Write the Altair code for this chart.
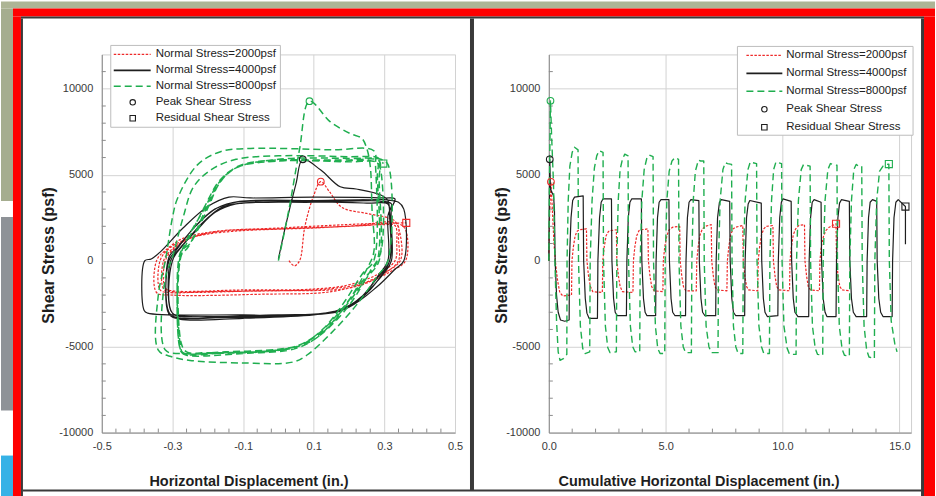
import altair as alt
import pandas as pd

# ---------------- data ----------------
# Left panel: shear stress vs horizontal displacement (hysteresis loops)
L_RED_X = [0.03, 0.045, 0.06, 0.075, 0.10, 0.12, 0.145, 0.18, 0.25, 0.31, 0.33,
           0.345, 0.345, 0.30, 0.25, 0.18, 0.0, -0.2, -0.31, -0.335, -0.335, -0.31, -0.26, -0.2, -0.1, 0.1, 0.3, 0.33,
           0.335, 0.33, 0.28, 0.2, 0.1, -0.1, -0.3, -0.32, -0.32, -0.29, -0.24, -0.15, 0.0, 0.2, 0.335,
           0.34, 0.34, 0.31, 0.24, 0.14, -0.05, -0.3, -0.325, -0.325, -0.3, -0.25, -0.17, 0.0, 0.25, 0.34,
           0.36, 0.36, 0.32, 0.26, 0.15, -0.05, -0.3, -0.345, -0.345, -0.32, -0.27, -0.18, 0.0, 0.25, 0.362]
L_RED_Y = [0, -300, 0, 2000, 3800, 4600, 4000, 3100, 2750, 2500, 2300,
           1500, 0, -700, -1300, -1650, -1750, -1800, -1850, -1700, 0, 700, 1250, 1550, 1750, 1900, 2100, 2050,
           1000, 0, -800, -1400, -1650, -1700, -1750, -1600, 0, 800, 1400, 1750, 1850, 2000, 2150,
           1200, 0, -600, -1300, -1650, -1750, -1800, -1650, 0, 700, 1300, 1700, 1850, 2050, 2150,
           1800, 0, -600, -1200, -1800, -1950, -2000, -1850, 0, 600, 1300, 1700, 1900, 2150, 2200]

L_BLACK_X = [0.0, 0.02, 0.05, 0.069, 0.12, 0.175, 0.22, 0.29, 0.31,
             0.315, 0.315, 0.29, 0.25, 0.2, 0.13, 0.0, -0.2, -0.29, -0.305, -0.305, -0.28, -0.23, -0.18, -0.12, 0.0, 0.2, 0.3,
             0.34, 0.355, 0.355, 0.33, 0.28, 0.2, 0.1, -0.1, -0.37, -0.38, -0.378, -0.36, -0.335, -0.27, -0.2, -0.14, -0.08, 0.1, 0.3, 0.33,
             0.32, 0.32, 0.3, 0.24, 0.18, 0.1, -0.1, -0.28, -0.31, -0.31, -0.29, -0.24, -0.18, -0.12, 0.05, 0.25, 0.31,
             0.315, 0.315, 0.28, 0.22, 0.15, 0.0, -0.25, -0.3, -0.3, -0.27, -0.22, -0.16, -0.1, 0.1, 0.3, 0.32,
             0.31, 0.31, 0.285, 0.23, 0.16, 0.05, -0.15, -0.29, -0.31, -0.31, -0.285, -0.235, -0.175, -0.11, 0.1, 0.28, 0.31]
L_BLACK_Y = [100, 2000, 4500, 5900, 5270, 4300, 4170, 3820, 3500,
             2500, 0, -900, -1900, -2700, -3050, -3200, -3250, -3200, -2900, 0, 700, 1800, 2800, 3300, 3400, 3500, 3550,
             3400, 3000, 0, -500, -1500, -2700, -3150, -3150, -3050, -2900, 0, 100, 500, 1900, 3150, 3700, 3650, 3700, 3650, 3600,
             3000, 0, -700, -2000, -2900, -3150, -3350, -3400, -3100, 0, 600, 1900, 3000, 3400, 3450, 3350, 3300,
             2800, 0, -1000, -2400, -3000, -3150, -3250, -3050, 0, 900, 2100, 3100, 3350, 3400, 3450, 3300,
             2600, 0, -800, -2200, -2950, -3200, -3300, -3300, -3000, 200, 800, 2000, 3050, 3450, 3500, 3500, 3350]

L_GREEN_X = [0.0, 0.03, 0.06, 0.088, 0.147, 0.203, 0.236, 0.25, 0.26,
             0.265, 0.27, 0.25, 0.2, 0.14, 0.06, 0.0, -0.15, -0.27, -0.277, -0.277, -0.25, -0.2, -0.164, -0.117, -0.013, 0.15, 0.28,
             0.29, 0.29, 0.26, 0.2, 0.12, 0.05, -0.1, -0.26, -0.275, -0.28, -0.26, -0.21, -0.17, -0.12, 0.0, 0.2, 0.29,
             0.31, 0.31, 0.28, 0.22, 0.15, 0.08, 0.04, -0.1, -0.25, -0.3, -0.34, -0.34, -0.32, -0.3, -0.286, -0.23, -0.164, -0.079, 0.15, 0.27,
             0.275, 0.27, 0.24, 0.19, 0.13, 0.06, 0.0, -0.2, -0.26, -0.275, -0.275, -0.255, -0.205, -0.16, -0.11, 0.0, 0.2, 0.28,
             0.28, 0.28, 0.245, 0.18, 0.11, 0.03, -0.15, -0.27, -0.28, -0.28, -0.26, -0.21, -0.165, -0.115, 0.0, 0.2, 0.285,
             0.285, 0.285, 0.25, 0.18, 0.1, 0.0, -0.2, -0.27, -0.32, -0.32, -0.3, -0.27, -0.24, -0.19, -0.12, 0.0, 0.2, 0.28, 0.297]
L_GREEN_Y = [0, 3000, 6500, 9280, 8080, 7400, 7120, 6540, 5500,
             3000, 500, -500, -2300, -3900, -4900, -5150, -5300, -5350, -5000, 500, 1000, 3050, 4600, 5470, 5850, 5800, 5700,
             5200, 500, -600, -2600, -4300, -5100, -5400, -5500, -5300, 0, 1200, 3000, 4500, 5400, 5900, 5950, 5900,
             5600, 0, -900, -2600, -4200, -5500, -5900, -5950, -5800, -5600, -5200, -2000, 0, 2500, 3600, 5560, 6340, 6530, 6450, 6400,
             5500, 0, -700, -2300, -3900, -4950, -5200, -5350, -5300, -4800, 300, 800, 3000, 4700, 5500, 5800, 5750, 5700,
             5000, 0, -1000, -2800, -4300, -5100, -5350, -5400, -5000, 0, 1000, 3100, 4700, 5450, 5800, 5850, 5800,
             4800, 0, -1000, -2900, -4600, -5200, -5400, -5400, -5200, -1000, 200, 2500, 4300, 5300, 5900, 6100, 6050, 6000, 5650]

L_PEAK_X = [0.12, 0.069, 0.088]
L_PEAK_Y = [4600, 5900, 9280]
L_RES_X = [0.362, 0.297]
L_RES_Y = [2200, 5650]

# Right panel: shear stress vs cumulative horizontal displacement
R_GREEN_X = [0.0, 0.03, 0.07, 0.12, 0.2, 0.26, 0.33, 0.40, 0.48, 0.62, 0.77,
             0.78, 0.83, 0.9, 1.0, 1.1, 1.25, 1.27, 1.35, 1.45, 1.55, 1.75,
             1.77, 1.85, 1.95, 2.05, 2.15, 2.32, 2.34, 2.42, 2.52, 2.62, 2.89,
             2.91, 2.97, 3.05, 3.15, 3.25, 3.39, 3.41, 3.49, 3.59, 3.69, 3.89,
             3.91, 3.98, 4.08, 4.2, 4.3, 4.46, 4.48, 4.56, 4.66, 4.76, 4.96,
             4.98, 5.05, 5.15, 5.27, 5.4, 5.55, 5.57, 5.65, 5.75, 5.85, 6.1,
             6.12, 6.18, 6.27, 6.4, 6.5, 6.63, 6.65, 6.73, 6.85, 6.95, 7.24,
             7.26, 7.33, 7.45, 7.55, 7.65, 7.82, 7.84, 7.9, 8.0, 8.1, 8.3,
             8.32, 8.4, 8.52, 8.62, 8.72, 8.89, 8.91, 8.99, 9.1, 9.2, 9.44,
             9.46, 9.53, 9.62, 9.72, 9.82, 9.96, 9.98, 10.06, 10.2, 10.3, 10.58,
             10.6, 10.68, 10.8, 10.9, 11.0, 11.18, 11.2, 11.28, 11.4, 11.5, 11.72,
             11.74, 11.82, 11.94, 12.05, 12.15, 12.33, 12.35, 12.43, 12.55, 12.65, 12.86,
             12.88, 12.95, 13.05, 13.15, 13.25, 13.39, 13.41, 13.49, 13.6, 13.7, 13.93,
             13.95, 14.03, 14.15, 14.3, 14.45, 14.55, 14.57, 14.65, 14.8, 14.9]
R_GREEN_Y = [0, 5000, 9300, 7200, 4500, 0, -3500, -5300, -5800, -5700, -5450,
             0, 3500, 5500, 6300, 6600, 6450, 0, -3800, -5100, -5400, -5300,
             0, 3500, 5400, 6100, 6400, 6300, 0, -3800, -5050, -5350, -5300,
             0, 3500, 5300, 5900, 6200, 6100, 0, -3800, -5000, -5300, -5300,
             0, 3500, 5300, 6000, 6150, 6050, 0, -3800, -5100, -5400, -5400,
             0, 3500, 5200, 5800, 6000, 5900, 0, -3800, -5000, -5350, -5350,
             0, 3500, 5200, 5850, 5800, 5800, 0, -3800, -5000, -5350, -5350,
             0, 3500, 5300, 5700, 5650, 5600, 0, -3800, -5000, -5400, -5400,
             0, 3500, 5300, 5750, 5700, 5650, 0, -3800, -5000, -5400, -5400,
             0, 3500, 5300, 5750, 5700, 5650, 0, -3800, -5100, -5450, -5450,
             0, 3500, 5300, 5600, 5550, 5500, 0, -3800, -5100, -5450, -5500,
             0, 3500, 5300, 5650, 5600, 5550, 0, -3800, -5150, -5500, -5550,
             0, 3500, 5300, 5600, 5500, 5500, 0, -3800, -5200, -5600, -5700,
             0, 3500, 5200, 5500, 5600, 5620, 0, -3500, -4800, -5300]

R_BLACK_X = [0.0, 0.02, 0.04, 0.07, 0.12, 0.2, 0.24, 0.27, 0.33, 0.40, 0.5, 0.68, 0.87,
             0.88, 0.95, 1.02, 1.1, 1.47, 1.49, 1.56, 1.63, 1.72, 2.08,
             2.1, 2.17, 2.24, 2.32, 2.68, 2.7, 2.77, 2.84, 2.93, 3.32,
             3.34, 3.4, 3.47, 3.55, 3.96, 3.98, 4.05, 4.12, 4.2, 4.57,
             4.59, 4.65, 4.72, 4.8, 5.14, 5.16, 5.23, 5.3, 5.4, 5.85,
             5.87, 5.93, 6.0, 6.08, 6.42, 6.44, 6.51, 6.58, 6.68, 7.14,
             7.16, 7.22, 7.3, 7.38, 7.74, 7.76, 7.83, 7.9, 8.0, 8.38,
             8.4, 8.46, 8.53, 8.6, 9.09, 9.11, 9.18, 9.25, 9.35, 9.8,
             9.82, 9.88, 9.95, 10.02, 10.37, 10.39, 10.46, 10.53, 10.66, 11.12,
             11.14, 11.2, 11.27, 11.35, 11.65, 11.67, 11.74, 11.82, 11.9, 12.29,
             12.31, 12.37, 12.44, 12.52, 12.86, 12.88, 12.95, 13.03, 13.15, 13.6,
             13.62, 13.68, 13.75, 13.85, 14.03, 14.05, 14.12, 14.2, 14.3, 14.69,
             14.71, 14.77, 14.85, 14.95, 15.26, 15.26]
R_BLACK_Y = [0, 3000, 5900, 4200, 4000, 3800, 3000, 0, -2000, -3000, -3450, -3520, -3450,
             0, 2500, 3500, 3700, 3770, 0, -2200, -3050, -3350, -3350,
             0, 2500, 3400, 3600, 3600, 0, -2200, -3000, -3200, -3200,
             0, 2500, 3400, 3600, 3600, 0, -2200, -3000, -3200, -3200,
             0, 2500, 3400, 3550, 3550, 0, -2200, -3000, -3200, -3200,
             0, 2500, 3400, 3550, 3500, 0, -2200, -3000, -3200, -3200,
             0, 2500, 3400, 3550, 3450, 0, -2200, -3000, -3200, -3200,
             0, 2500, 3300, 3500, 3350, 0, -2200, -3000, -3250, -3200,
             0, 2500, 3400, 3600, 3450, 0, -2200, -3000, -3250, -3250,
             0, 2500, 3400, 3550, 3400, 0, -2200, -3000, -3250, -3250,
             0, 2500, 3350, 3550, 3450, 0, -2200, -3000, -3250, -3250,
             0, 2500, 3400, 3550, 3450, 0, -2200, -3000, -3250, -3250,
             0, 2500, 3400, 3550, 3150, 950]

R_RED_X = [0.0, 0.03, 0.09, 0.15, 0.22, 0.3, 0.38, 0.47, 0.6, 0.97,
           0.99, 1.05, 1.12, 1.2, 1.3, 1.61, 1.63, 1.7, 1.78, 1.88, 2.29,
           2.31, 2.37, 2.45, 2.55, 2.65, 2.89, 2.91, 2.98, 3.05, 3.15, 3.6,
           3.62, 3.68, 3.76, 3.86, 3.96, 4.24, 4.26, 4.33, 4.4, 4.5, 4.88,
           4.9, 4.96, 5.05, 5.15, 5.3, 5.6, 5.62, 5.69, 5.76, 5.86, 6.31,
           6.33, 6.39, 6.47, 6.57, 6.7, 6.95, 6.97, 7.04, 7.11, 7.2, 7.62,
           7.64, 7.7, 7.78, 7.88, 8.0, 8.3, 8.32, 8.39, 8.46, 8.55, 8.94,
           8.96, 9.02, 9.1, 9.2, 9.3, 9.59, 9.61, 9.68, 9.75, 9.85, 10.3,
           10.32, 10.38, 10.46, 10.56, 10.7, 10.94, 10.96, 11.03, 11.1, 11.2, 11.58,
           11.6, 11.66, 11.75, 11.85, 12.0, 12.29, 12.31, 12.38, 12.45, 12.55, 12.86]
R_RED_Y = [0, 2500, 4590, 3000, 1000, -300, -1200, -1850, -2050, -2000,
           0, 800, 1400, 1700, 1800, 1850, 0, -900, -1500, -1800, -1850,
           0, 800, 1450, 1700, 1750, 1800, 0, -900, -1500, -1800, -1850,
           0, 800, 1450, 1750, 1800, 1850, 0, -900, -1500, -1750, -1800,
           0, 800, 1450, 1800, 1950, 2000, 0, -900, -1500, -1750, -1750,
           0, 800, 1500, 1850, 2000, 2100, 0, -900, -1500, -1700, -1750,
           0, 800, 1500, 1850, 1950, 2050, 0, -900, -1500, -1700, -1750,
           0, 800, 1500, 1850, 2000, 2050, 0, -900, -1500, -1700, -1750,
           0, 800, 1500, 1850, 2050, 2100, 0, -900, -1500, -1700, -1750,
           0, 800, 1400, 1750, 1950, 2150, 0, -900, -1500, -1700, -1750]

R_PEAK_X = [0.09, 0.04, 0.07]
R_PEAK_Y = [4590, 5900, 9300]
R_RES_X = [12.29, 14.55, 15.26]
R_RES_Y = [2150, 5620, 3150]

LEGEND_LABELS = ["Normal Stress=2000psf", "Normal Stress=4000psf", "Normal Stress=8000psf",
                 "Peak Shear Stress", "Residual Shear Stress"]

L_X_TICKS = [-0.5, -0.3, -0.1, 0.1, 0.3, 0.5]
L_X_MINOR = [-0.46, -0.42, -0.38, -0.34, -0.26, -0.22, -0.18, -0.14, -0.06, -0.02,
             0.02, 0.06, 0.14, 0.18, 0.22, 0.26, 0.34, 0.38, 0.42, 0.46]
Y_TICKS = [-10000, -5000, 0, 5000, 10000]
Y_MINOR = [-9000, -8000, -7000, -6000, -4000, -3000, -2000, -1000,
           1000, 2000, 3000, 4000, 6000, 7000, 8000, 9000, 11000]
R_X_TICKS = [0, 5, 10, 15]
R_X_MINOR = [1, 2, 3, 4, 6, 7, 8, 9, 11, 12, 13, 14]

# ---------------- styling ----------------
RED = "#ee2a2a"
BLACK = "#1e1e1e"
GREEN = "#1fae4f"
FONT = "Liberation Sans"
RED_DASH = [2.5, 1.5]
GREEN_DASH = [7, 4]

LW, RW, H = 354, 363, 379
L_ORIGIN = (101, 53)
R_ORIGIN = (549, 53)


def one():
    return pd.DataFrame({"d": [0]})


def rect_abs(x1, y1, x2, y2, color, origin, stroke=None):
    ox, oy = origin
    kw = dict(color=color)
    if stroke:
        kw = dict(fill=color, stroke=stroke, strokeWidth=1)
    return alt.Chart(one()).mark_rect(**kw).encode(
        x=alt.value(x1 - ox), x2=alt.value(x2 - ox),
        y=alt.value(y1 - oy), y2=alt.value(y2 - oy))


def axes(x_vals, x_fmt_expr, x_title, x_title_x, y_title_x, domain):
    common = dict(grid=True, gridColor="#d3d3d3", gridWidth=1, ticks=False,
                  domainColor="#8c8c8c", domainWidth=1, labelColor="#3a3a3a",
                  labelFont=FONT, labelFontSize=11, labelFlush=False, labelOverlap=False,
                  titleFont=FONT, titleFontWeight="bold", titleColor="#1e1e1e")
    xax = alt.Axis(values=x_vals, labelExpr=x_fmt_expr, labelPadding=8, title=x_title,
                   titleFontSize=14.5, titleX=x_title_x, titleY=49, titleAlign="center",
                   titleBaseline="middle", **common)
    yax = alt.Axis(values=Y_TICKS, labelExpr="'' + datum.value", labelPadding=9,
                   title="Shear Stress (psf)", titleFontSize=16, titleX=y_title_x, titleY=201,
                   titleAlign="center", titleBaseline="middle", **common)
    xs = alt.Scale(domain=domain, nice=False, zero=False)
    ys = alt.Scale(domain=[-10000, 12000], nice=False, zero=False)
    return xax, yax, xs, ys


def series(xs, ys, color, dash, width, xsc, ysc, xax, yax, interp="linear"):
    df = pd.DataFrame({"x": xs, "y": ys, "i": list(range(len(xs)))})
    kw = dict(color=color, strokeWidth=width, strokeJoin="round", interpolate=interp)
    if dash:
        kw["strokeDash"] = dash
    return alt.Chart(df).mark_line(**kw).encode(
        x=alt.X("x:Q", scale=xsc, axis=xax),
        y=alt.Y("y:Q", scale=ysc, axis=yax),
        order="i:Q")


def markers(xs, ys, colors, shape, size, xsc, ysc, xax, yax):
    df = pd.DataFrame({"x": xs, "y": ys, "c": colors})
    return alt.Chart(df).mark_point(shape=shape, filled=False, size=size, strokeWidth=1.1, opacity=1).encode(
        x=alt.X("x:Q", scale=xsc, axis=xax),
        y=alt.Y("y:Q", scale=ysc, axis=yax),
        color=alt.Color("c:N", scale=None))


def minor_ticks(xminor, xsc, ysc, xax, yax):
    dx = pd.DataFrame({"v": xminor})
    dy = pd.DataFrame({"v": Y_MINOR})
    tx = alt.Chart(dx).mark_rule(color="#8c8c8c", strokeWidth=1).encode(
        x=alt.X("v:Q", scale=xsc, axis=xax), y=alt.value(H), y2=alt.value(H - 4))
    ty = alt.Chart(dy).mark_rule(color="#8c8c8c", strokeWidth=1).encode(
        y=alt.Y("v:Q", scale=ysc, axis=yax), x=alt.value(0), x2=alt.value(4))
    return [tx, ty]


def legend(box, rows, line_x, marker_x, text_x, origin):
    ox, oy = origin
    layers = [rect_abs(box[0], box[1], box[2], box[3], "white", origin, stroke="#bdbdbd")]
    styles = [(RED, RED_DASH, 1.3), (BLACK, None, 1.8), (GREEN, GREEN_DASH, 1.5)]
    for i, label in enumerate(LEGEND_LABELS):
        y = rows[i] - oy
        if i < 3:
            c, d, w = styles[i]
            kw = dict(color=c, strokeWidth=w)
            if d:
                kw["strokeDash"] = d
            layers.append(alt.Chart(one()).mark_rule(**kw).encode(
                x=alt.value(line_x[0] - ox), x2=alt.value(line_x[1] - ox), y=alt.value(y)))
        else:
            shape = "circle" if i == 3 else "square"
            layers.append(alt.Chart(one()).mark_point(shape=shape, filled=False, size=30,
                                                      color=BLACK, strokeWidth=1.1, opacity=1).encode(
                x=alt.value(marker_x - ox), y=alt.value(y)))
        layers.append(alt.Chart(one()).mark_text(text=label, align="left", baseline="middle",
                                                 font=FONT, fontSize=11.5, color="#222222").encode(
            x=alt.value(text_x - ox), y=alt.value(y)))
    return layers


# ---------------- left panel ----------------
lxax, lyax, lxs, lys = axes(L_X_TICKS, "replace(format(datum.value, '.1f'), '\u2212', '-')",
                            "Horizontal Displacement (in.)", 147, -53, [-0.5, 0.5])

frame = [
    (0, 0, 936, 7, "#adb596"),
    (0, 7, 12, 200, "#a5ad8f"),
    (0, 200, 12, 216, "#ffffff"),
    (0, 216, 12, 410, "#8e9297"),
    (0, 410, 12, 455, "#ffffff"),
    (0, 455, 12, 496, "#36b2e6"),
    (12, 7, 936, 15, "#ff0000"),
    (12, 15, 20, 496, "#ff0000"),
    (925, 15, 936, 496, "#ff0000"),
    (20, 15, 925, 17, "#3a3a3a"),
    (20, 17, 22, 496, "#3a3a3a"),
    (922, 17, 925, 496, "#3a3a3a"),
    (470, 17, 474, 490, "#3a3a3a"),
    (22, 489, 922, 491, "#3a3a3a"),
]
left_layers = [rect_abs(*f, L_ORIGIN) for f in frame]
left_layers += minor_ticks(L_X_MINOR, lxs, lys, lxax, lyax)
left_layers += [
    series(L_RED_X, L_RED_Y, RED, RED_DASH, 1.2, lxs, lys, lxax, lyax, "catmull-rom"),
    series(L_BLACK_X, L_BLACK_Y, BLACK, None, 1.2, lxs, lys, lxax, lyax, "catmull-rom"),
    series(L_GREEN_X, L_GREEN_Y, GREEN, GREEN_DASH, 1.5, lxs, lys, lxax, lyax, "catmull-rom"),
    markers(L_PEAK_X, L_PEAK_Y, [RED, BLACK, GREEN], "circle", 45, lxs, lys, lxax, lyax),
    markers(L_RES_X, L_RES_Y, [RED, GREEN], "square", 50, lxs, lys, lxax, lyax),
]
left_layers += legend((110, 44, 280, 126), [53, 69, 85, 101, 117], (113, 150), 132, 155, L_ORIGIN)
left = alt.layer(*left_layers).properties(width=LW, height=H)

# ---------------- right panel ----------------
rxax, ryax, rxs, rys = axes(R_X_TICKS, "format(datum.value, '.1f')",
                            "Cumulative Horizontal Displacement (in.)", 150, -47, [0, 15.5])
right_layers = minor_ticks(R_X_MINOR, rxs, rys, rxax, ryax)
right_layers += [
    series(R_RED_X, R_RED_Y, RED, RED_DASH, 1.2, rxs, rys, rxax, ryax),
    series(R_BLACK_X, R_BLACK_Y, BLACK, None, 1.2, rxs, rys, rxax, ryax),
    series(R_GREEN_X, R_GREEN_Y, GREEN, GREEN_DASH, 1.4, rxs, rys, rxax, ryax),
    markers(R_PEAK_X, R_PEAK_Y, [RED, BLACK, GREEN], "circle", 45, rxs, rys, rxax, ryax),
    markers(R_RES_X, R_RES_Y, [RED, GREEN, BLACK], "square", 50, rxs, rys, rxax, ryax),
]
right_layers += legend((738, 45, 914, 134), [54, 72, 90, 108, 126], (747, 783), 765, 787, R_ORIGIN)
right = alt.layer(*right_layers).properties(width=RW, height=H)

chart = alt.hconcat(left, right, spacing=94, bounds="flush").properties(
    padding=0, background="white"
).configure_view(stroke="#cfcfcf", strokeWidth=1)

chart.save("out.html", embed_options={"renderer": "svg", "actions": False})
